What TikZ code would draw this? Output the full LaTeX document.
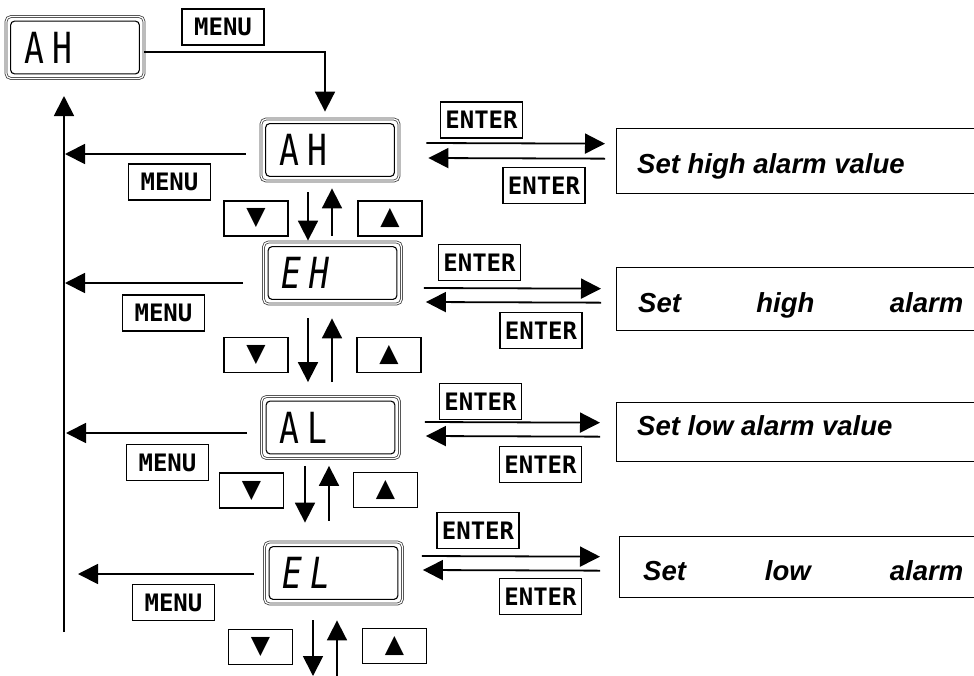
\documentclass[tikz,border=0pt]{standalone}
\usepackage{fontspec}
\setmainfont{Liberation Sans}
\newfontfamily\keyfont{DejaVu Sans Mono}
\newfontfamily\lcdfont{DejaVu Sans Mono}[LetterSpace=25]
\newfontfamily\symfont{DejaVu Sans}
\usetikzlibrary{arrows.meta}
\newcommand\lcdtxt[1]{\makebox[102pt][l]{\scalebox{1}[1.3]{#1}}}
\begin{document}
\begin{tikzpicture}[x=1pt,y=-1pt,
  disp/.style={draw=black!75, double=white, double distance=1.2pt, line width=0.8pt, rounded corners=5pt,
    minimum width=138pt, minimum height=62pt, inner sep=0pt, font=\lcdfont\fontsize{33}{33}\selectfont},
  lcdin/.style={line width=1.1pt, rounded corners=4pt},
  key/.style={draw, line width=1.4pt, minimum width=82pt, minimum height=36pt, inner sep=0pt,
    font=\keyfont\bfseries\fontsize{24}{24}\selectfont},
  arkey/.style={draw, line width=1.4pt, minimum width=64pt, minimum height=35pt, inner sep=0pt,
    font=\symfont\fontsize{25}{25}\selectfont},
  txtbox/.style={draw, line width=1.3pt, anchor=north west, minimum width=374pt, inner sep=0pt},
  txt/.style={anchor=base west, inner sep=0pt, font=\bfseries\itshape\fontsize{27.5}{30}\selectfont},
  arr/.style={line width=1.8pt, -{Triangle[length=20pt,width=20pt]}},
  ln/.style={line width=1.8pt}
]
\clip (0,0) rectangle (974,675);

% displays
\node[disp] (d0) at (75,47.5) {\lcdtxt{AH}};
\node[disp] (d1) at (330,150) {\lcdtxt{AH}};
\node[disp] (d2) at (332.5,273) {\lcdtxt{\itshape EH}};
\node[disp] (d3) at (330.5,427.5) {\lcdtxt{AL}};
\node[disp] (d4) at (333.5,573) {\lcdtxt{\itshape EL}};
\foreach \d in {d0,d1,d2,d3,d4}
  \draw[lcdin] ([shift={(5,5)}]\d.north west) rectangle ([shift={(-5,-5)}]\d.south east);

% MENU keys
\node[key] (m0) at (223,27) {MENU};
\node[key] (m1) at (169.5,182) {MENU};
\node[key] (m2) at (163.5,313) {MENU};
\node[key] (m3) at (167.5,462.5) {MENU};
\node[key] (m4) at (173.5,602.5) {MENU};

% ENTER keys
\node[key] (et1) at (481.5,120) {ENTER};
\node[key] (eb1) at (544,185.5) {ENTER};
\node[key] (et2) at (479.5,262.5) {ENTER};
\node[key] (eb2) at (541,330.5) {ENTER};
\node[key] (et3) at (480.5,401.5) {ENTER};
\node[key] (eb3) at (540.5,464.5) {ENTER};
\node[key] (et4) at (478,530.5) {ENTER};
\node[key] (eb4) at (540.5,596.5) {ENTER};

% arrow keys
\node[arkey] (dn1) at (256,218.5) {▼};
\node[arkey] (up1) at (390,218.5) {▲};
\node[arkey] (dn2) at (256,355) {▼};
\node[arkey] (up2) at (389,355) {▲};
\node[arkey] (dn3) at (251.5,490.5) {▼};
\node[arkey] (up3) at (385.5,490) {▲};
\node[arkey] (dn4) at (260.5,647) {▼};
\node[arkey] (up4) at (394.5,646) {▲};

% text boxes
\node[txtbox, minimum height=65pt] (t1) at (616,128) {};
\node[txtbox, minimum height=63pt] (t2) at (616,267) {};
\node[txtbox, minimum height=59pt] (t3) at (616,402) {};
\node[txtbox, minimum height=61pt] (t4) at (619,536) {};
\node[txt] (s1) at (637,173) {Set high alarm value};
\node[txt] (s2) at (638,312) {\hbox to 325pt{Set\hfill high\hfill alarm}};
\node[txt] (s3) at (637,435) {Set low alarm value};
\node[txt] (s4) at (643,580) {\hbox to 320pt{Set\hfill low\hfill alarm}};

% top connection
\draw[arr] ([shift={(0,4.5)}]d0.east) -| ([shift={(-5,-7)}]d1.north);

% left return line
\coordinate (vb) at (64,632);
\coordinate (vt) at (64,96);
\draw[arr] (vb) -- (vt);
\draw[arr, shorten >=1pt] ([shift={(-15,4)}]d1.west) -- ([shift={(0,4)}]d1.west -| vt);
\draw[arr, shorten >=1pt] ([shift={(-20,10)}]d2.west) -- ([shift={(0,10)}]d2.west -| vt);
\draw[arr, shorten >=2pt] ([shift={(-14,5.5)}]d3.west) -- ([shift={(0,5.5)}]d3.west -| vt);
\draw[arr, shorten >=14pt] ([shift={(-10,1)}]d4.west) -- ([shift={(0,1)}]d4.west -| vt);

% down / up arrows
\draw[arr] ([shift={(-22,11)}]d1.south) -- ([shift={(-24.5,-1)}]d2.north);
\draw[arr] ([shift={(-0.5,-6)}]d2.north) -- ([shift={(2,7)}]d1.south);
\draw[arr] ([shift={(-24.5,14)}]d2.south) -- ([shift={(-22.5,-14)}]d3.north);
\draw[arr] ([shift={(1.5,-14)}]d3.north) -- ([shift={(-0.5,14)}]d2.south);
\draw[arr] ([shift={(-25.5,7)}]d3.south) -- ([shift={(-28.5,-19)}]d4.north);
\draw[arr] ([shift={(-4.5,-21)}]d4.north) -- ([shift={(-1.5,7)}]d3.south);
\coordinate (e4d) at (313,676);
\coordinate (e4u) at (337,676);
\draw[arr] ([shift={(-20.5,16)}]d4.south) -- (e4d);
\draw[arr] (e4u) -- ([shift={(3.5,16)}]d4.south);

% ENTER arrows
\draw[arr] ([shift={(27,-7)}]d1.east) -- ([shift={(-11,-17.5)}]t1.west);
\draw[arr] ([shift={(-11,-2.5)}]t1.west) -- ([shift={(29,8)}]d1.east);
\draw[arr] ([shift={(22,15)}]d2.east) -- ([shift={(-15,-10.5)}]t2.west);
\draw[arr] ([shift={(-15,3.5)}]t2.west) -- ([shift={(24,29)}]d2.east);
\draw[arr] ([shift={(25,-5.5)}]d3.east) -- ([shift={(-16,-9.5)}]t3.west);
\draw[arr] ([shift={(-16,4.5)}]t3.west) -- ([shift={(26,8.5)}]d3.east);
\draw[arr] ([shift={(19,-17)}]d4.east) -- ([shift={(-19,-10.5)}]t4.west);
\draw[arr] ([shift={(-19,3.5)}]t4.west) -- ([shift={(20,-3)}]d4.east);
\end{tikzpicture}
\end{document}
